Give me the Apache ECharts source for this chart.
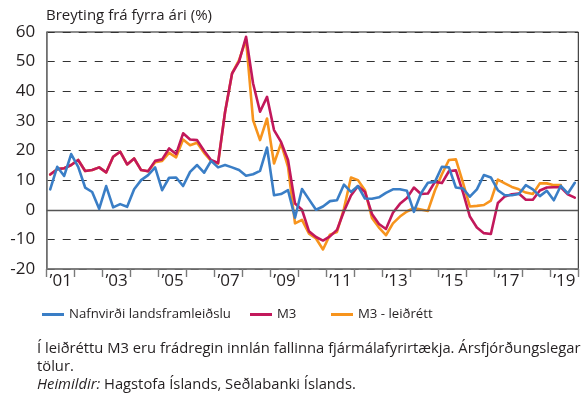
<!DOCTYPE html>
<html>
<head>
<meta charset="utf-8">
<script src="https://cdn.jsdelivr.net/npm/echarts@6/dist/echarts.min.js"></script>
<style>
  html, body { margin: 0; padding: 0; background: #fff; }
  #chart { width: 587px; height: 403px; }
</style>
</head>
<body>
<div id="chart"></div>
<script>
// Quarterly year-on-year change (%), 2001Q1 - 2019Q4
const years = ['01','02','03','04','05','06','07','08','09','10',
               '11','12','13','14','15','16','17','18','19'];
const quarterNames = ['Q1','Q2','Q3','Q4'];
const yearLabels = years.map(y => '\u2019' + y);

// Nafnvirði landsframleiðslu (nominal GDP)
const gdp = [
   6.9, 14.5, 11.4, 18.8,   14.5,  7.5,  6.0,  0.3,    8.0,  0.8,  1.9,  1.0,
   6.9, 10.0, 11.7, 14.3,    6.6, 10.8, 10.9,  8.0,   12.8, 15.1, 12.5, 16.5,
  14.3, 15.1, 14.3, 13.4,   11.5, 12.0, 13.1, 21.0,    4.9,  5.3,  6.6, -2.7,
   7.0,  3.5,  0.0,  1.1,    2.9,  3.2,  8.5,  6.0,    8.0,  3.8,  3.7,  4.2,
   5.7,  6.9,  6.9,  6.4,   -0.7,  5.5,  9.1,  9.4,   14.5, 14.3,  7.5,  7.2,
   4.4,  6.9, 11.7, 10.9,    6.6,  4.9,  4.9,  5.3,    8.3,  6.9,  4.6,  6.4,
   3.2,  8.1,  5.5,  9.1
];

// M3
const m3 = [
  11.9, 13.7, 14.0, 15.1,   16.8, 13.1, 13.4, 14.3,   12.6, 17.9, 19.6, 15.3,
  17.3, 13.4, 13.0, 16.5,   17.0, 20.7, 18.8, 25.8,   23.7, 23.5, 19.9, 16.8,
  15.8, 33.0, 46.0, 50.0,   58.4, 42.7, 33.1, 38.1,   26.9, 22.9, 16.8,  2.1,
   0.0, -7.3, -9.2, -10.4,  -9.0, -6.8, -0.5,  4.8,    8.0,  6.0, -1.4, -4.8,
  -6.5, -1.0,  2.0,  4.0,    7.5,  5.3,  5.5,  9.4,    9.0, 13.0, 13.3,  6.0,
  -2.3, -6.0, -7.9, -8.2,    2.3,  4.5,  5.2,  5.5,    3.4,  3.4,  6.5,  7.5,
   7.6,  7.6,  5.2,  4.1
];

// M3 - leiðrétt (adjusted M3)
const m3adj = [
  11.9, 13.7, 14.0, 15.1,   16.8, 13.1, 13.4, 14.3,   12.6, 17.9, 19.6, 15.3,
  17.3, 13.4, 13.0, 16.0,   16.5, 19.2, 17.7, 23.7,   21.8, 22.6, 19.2, 16.5,
  15.6, 33.0, 46.0, 50.5,   57.5, 30.3, 23.5, 30.8,   15.6, 22.4, 14.5, -4.6,
  -3.4, -8.1, -9.7, -13.4,  -8.4, -7.5,  0.4, 10.9,   10.0,  6.6, -2.8, -6.0,
  -8.6, -4.6, -2.3, -0.6,    0.6,  0.1, -0.4,  6.5,   12.0, 16.8, 17.0,  9.2,
   1.1,  1.3,  1.6,  3.1,   10.2,  8.9,  7.7,  6.9,    5.8,  5.3,  8.9,  8.9,
   8.3,  8.3, null, null
];

const quarters = [];
years.forEach(y => quarterNames.forEach(q => quarters.push('20' + y + q)));

const seriesNames = ['Nafnvirði landsframleiðslu', 'M3', 'M3 - leiðrétt'];
const colors = ['#3a7ec6', '#c2185b', '#f7941d'];

const FONT = '"Open Sans"';
const INK = '#231f20';

const chart = echarts.init(document.getElementById('chart'), null, { renderer: 'canvas' });

const lineSeries = (name, data, color, z) => ({
  name, type: 'line', data,
  xAxisIndex: 0, yAxisIndex: 0,
  symbol: 'none', smooth: false, connectNulls: false,
  z,
  lineStyle: { color, width: 2.6, join: 'round', cap: 'round' },
  itemStyle: { color },
  emphasis: { disabled: true }
});

const legendAt = (name, left) => ({
  data: [name],
  left, top: 303,
  icon: 'rect',
  itemWidth: 22, itemHeight: 3,
  itemGap: 8,
  textStyle: { fontFamily: FONT, fontSize: 13.2, color: INK },
  selectedMode: false
});

chart.setOption({
  animation: false,
  backgroundColor: '#fff',
  textStyle: { fontFamily: FONT },
  title: {
    text: 'Breyting frá fyrra ári (%)',
    left: 41, top: 3,
    textStyle: { fontFamily: FONT, fontSize: 15, fontWeight: 'normal', color: INK }
  },
  legend: [
    legendAt(seriesNames[0], 37),
    legendAt(seriesNames[1], 245),
    legendAt(seriesNames[2], 326)
  ],
  grid: {
    left: 46.7, right: 8.7, top: 32, bottom: 134,
    show: true, borderColor: '#1a1a1a', borderWidth: 1, backgroundColor: 'transparent'
  },
  xAxis: [
    {
      type: 'category', data: quarters, boundaryGap: true,
      show: false
    },
    {
      type: 'category', data: yearLabels, boundaryGap: true,
      position: 'bottom',
      axisLine: { show: true, lineStyle: { color: '#7a7a7a', width: 1.6 } },
      axisTick: { show: true, interval: 0, length: 8, lineStyle: { color: '#7a7a7a', width: 1.4 } },
      axisLabel: {
        interval: 1, margin: 4,
        fontFamily: FONT, fontSize: 17, color: INK
      },
      splitLine: { show: false }
    }
  ],
  yAxis: {
    type: 'value', min: -20, max: 60, interval: 10,
    axisLine: { show: true, lineStyle: { color: '#7a7a7a', width: 1.6 } },
    axisTick: { show: false },
    axisLabel: { margin: 11.5, fontFamily: FONT, fontSize: 17, color: INK },
    splitLine: { show: true, lineStyle: { color: '#333', width: 1, type: [8, 8] } }
  },
  series: [
    lineSeries(seriesNames[0], gdp, colors[0], 5),
    lineSeries(seriesNames[1], m3, colors[1], 4),
    Object.assign(lineSeries(seriesNames[2], m3adj, colors[2], 3), {
      markLine: {
        silent: true, symbol: 'none', label: { show: false },
        lineStyle: { color: '#555', width: 1.4, type: 'solid' },
        data: [{ yAxis: 0 }]
      }
    })
  ],
  graphic: [
    {
      type: 'text', left: 37, top: 341,
      style: {
        text: 'Í leiðréttu M3 eru frádregin innlán fallinna fjármálafyrirtækja. Ársfjórðungslegar',
        font: '14.75px ' + FONT, fill: INK
      }
    },
    {
      type: 'text', left: 37, top: 359,
      style: { text: 'tölur.', font: '14.75px ' + FONT, fill: INK }
    },
    {
      type: 'text', left: 37, top: 377,
      style: {
        text: '{i|Heimildir:} Hagstofa Íslands, Seðlabanki Íslands.',
        font: '14.75px ' + FONT, fill: INK,
        rich: { i: { fontStyle: 'italic', fontFamily: FONT, fontSize: 14.75, fill: INK } }
      }
    }
  ]
});
</script>
</body>
</html>
